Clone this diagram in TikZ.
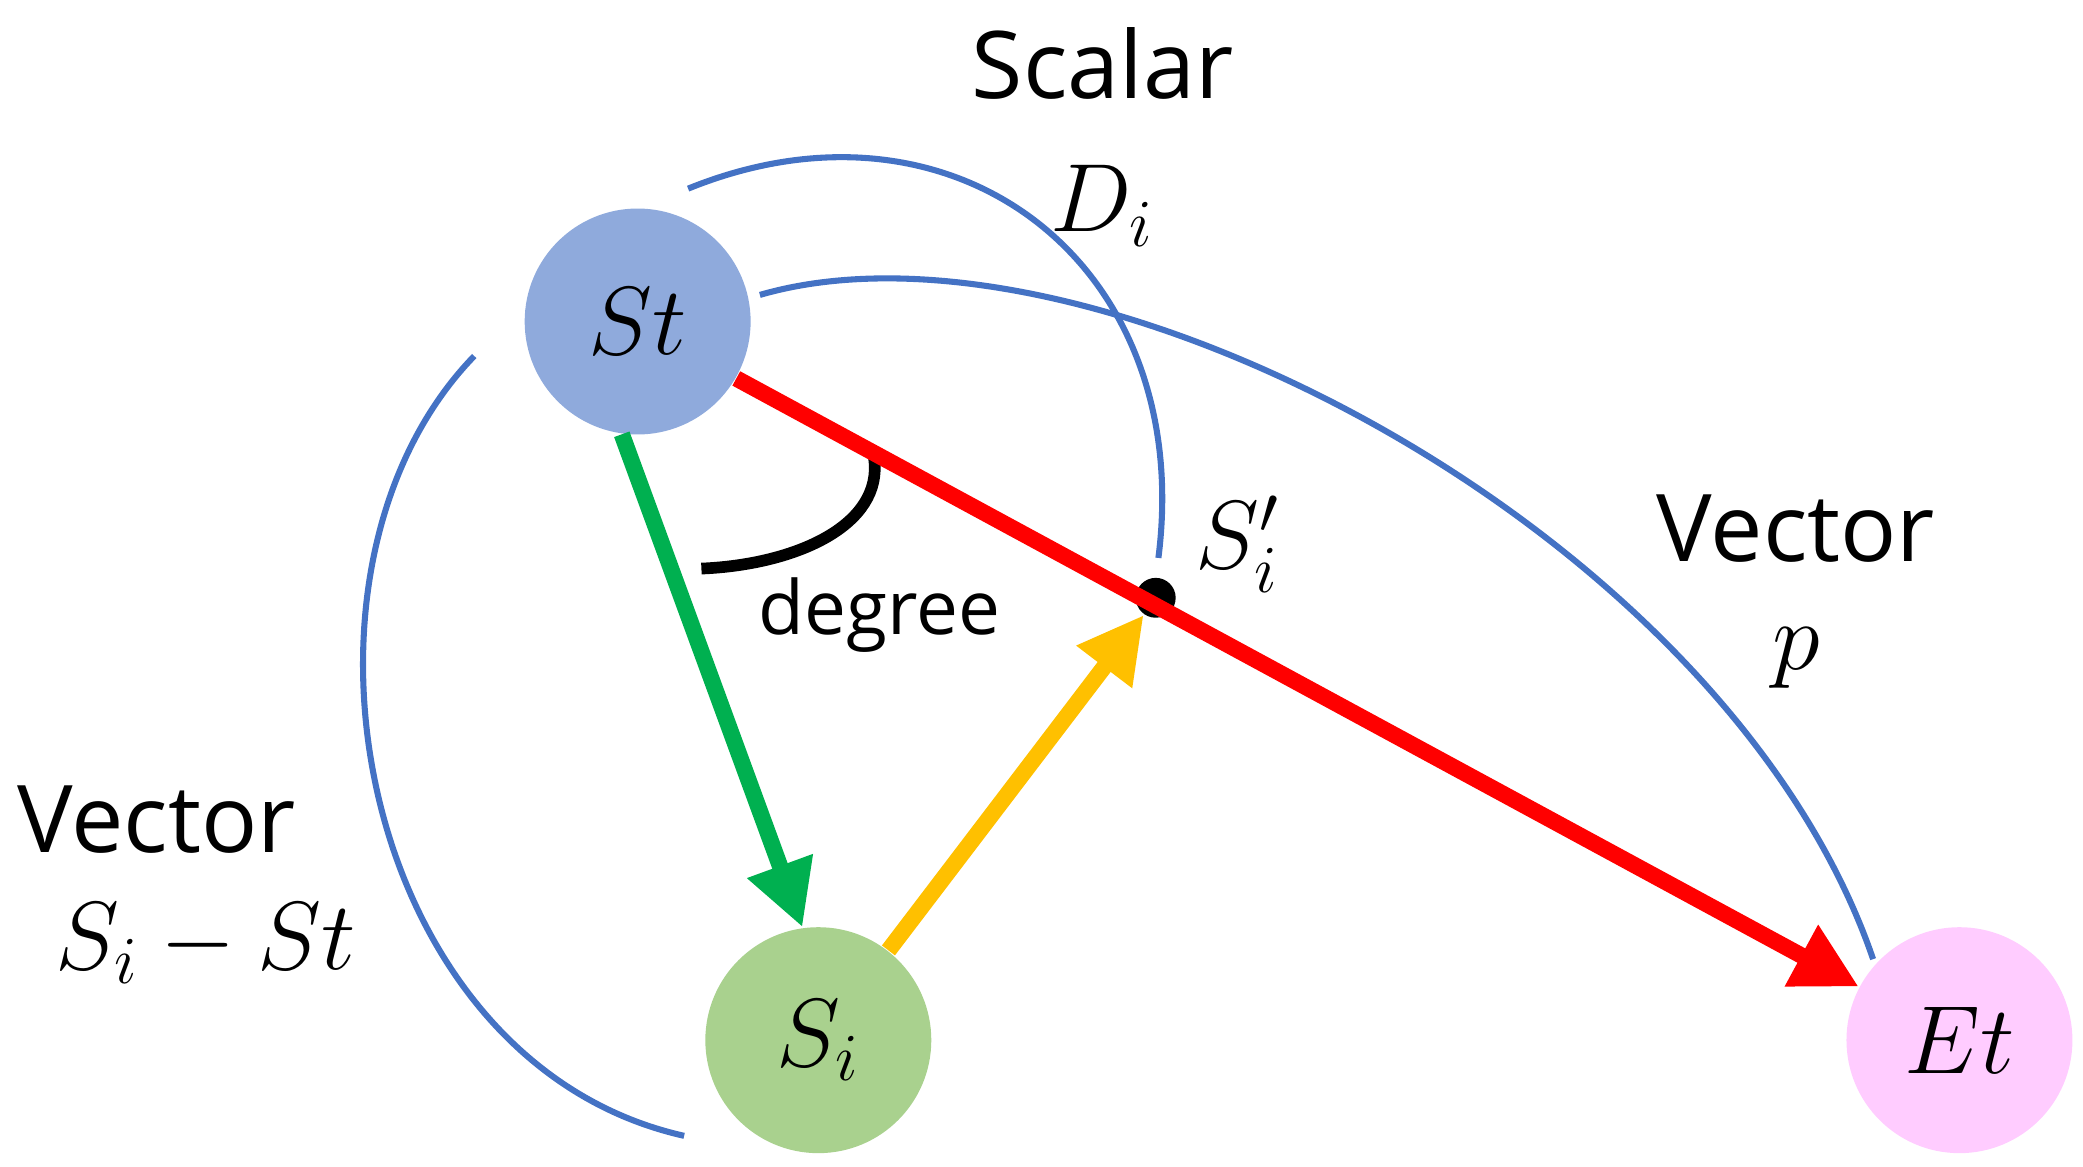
\documentclass[tikz,border=0pt]{standalone}
\usepackage{fontspec}
\setmainfont{Open Sans}
\usetikzlibrary{arrows.meta}
\tikzset{
  circ/.style={circle,minimum size=1.7cm,inner sep=0pt,font=\fontsize{22}{24}\selectfont},
  vec/.style={line width=3.5pt,-{Triangle[length=14pt,width=14pt]}},
  lbl/.style={font=\fontsize{20}{22}\selectfont}
}
\definecolor{stc}{HTML}{8FAADC}
\definecolor{sic}{HTML}{A9D18E}
\definecolor{etc}{HTML}{FFCCFF}
\definecolor{bl}{HTML}{4472C4}
\definecolor{gr}{HTML}{00B050}
\definecolor{og}{HTML}{FFC000}
\begin{document}
\begin{tikzpicture}[x=0.01cm,y=-0.01cm]
\useasboundingbox (0,0) rectangle (1568,878);
\node[circ,fill=stc] (St) at (480,242) {$St$};
\node[circ,fill=sic] (Si) at (616,783) {$S_i$};
\node[circ,fill=etc] (Et) at (1475,783) {$Et$};
\node[circle,fill=black,inner sep=0pt,minimum size=0.3cm] (Sp) at (870,450) {};
\coordinate (a1) at (518,142); \coordinate (a2) at (872,420);
\coordinate (b1) at (572,222); \coordinate (b2) at (1410,722);
\coordinate (c1) at (357,268); \coordinate (c2) at (515,855);
\coordinate (d1) at (528,428); \coordinate (d2) at (658,345);
\draw[draw=bl,line width=1.3pt] (a1) .. controls (720,60) and (900,200) .. (a2);
\draw[draw=bl,line width=1.3pt] (b1) .. controls (820,150) and (1300,400) .. (b2);
\draw[draw=bl,line width=1.3pt] (c1) .. controls (200,430) and (270,800) .. (c2);
\draw[line width=2.5pt] (d1) .. controls (600,425) and (665,395) .. (d2);
\draw[vec,red] (St.-30) -- (Et.152);
\draw[vec,gr] (St.-98) -- (Si.98);
\draw[vec,og] (Si.52) -- (Sp.-125);
\node[lbl] (t1) at (830,48) {Scalar};
\node[lbl] (t2) at (830,155) {$D_i$};
\node[lbl] (t3) at (932,410) {$S'_i$};
\node[lbl] (t4) at (1352,398) {Vector};
\node[lbl] (t5) at (1352,495) {$p$};
\node[lbl] (t6) at (118,617) {Vector};
\node[lbl] (t7) at (155,710) {$S_i-St$};
\node[font=\fontsize{16}{18}\selectfont] (t8) at (662,463) {degree};
\end{tikzpicture}
\end{document}
